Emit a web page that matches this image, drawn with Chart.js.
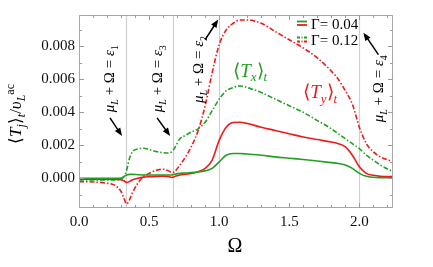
<!DOCTYPE html>
<html>
<head>
<meta charset="utf-8">
<script src="https://cdn.jsdelivr.net/npm/chart.js@4.4.0/dist/chart.umd.min.js"></script>
<style>
  html, body { margin: 0; padding: 0; background: #fff; }
  #wrap { width: 433px; height: 267px; }
</style>
</head>
<body>
<div id="wrap"><canvas id="chart" width="433" height="267"></canvas></div>
<script>
// Omega samples shared by all four curves
var omega = [0, 0.1, 0.2, 0.25, 0.3, 0.32, 0.34, 0.36, 0.38, 0.42, 0.46, 0.5, 0.55, 0.6, 0.64, 0.66, 0.68,
  0.72, 0.76, 0.8, 0.85, 0.9, 0.95, 1.0, 1.05, 1.1, 1.15, 1.2, 1.3, 1.4, 1.5, 1.6, 1.7, 1.8, 1.85, 1.9,
  1.95, 2.0, 2.05, 2.1, 2.15, 2.24];

// <T_x>_t, Gamma = 0.04 (green solid)
var txLow = [0, 0, 0, 0, 0.00002, 0.0001, 0.0002, 0.00024, 0.00024, 0.00022, 0.0002, 0.0002, 0.0002, 0.0002,
  0.0002, 0.0002, 0.00025, 0.0003, 0.00032, 0.00035, 0.00038, 0.00045, 0.0006, 0.001, 0.0014, 0.0015,
  0.0015, 0.00147, 0.0014, 0.0013, 0.00122, 0.00114, 0.00105, 0.00095, 0.0009, 0.0008, 0.0006, 0.0003,
  0.00012, 0.00006, 0.00004, 0.00003];

// <T_y>_t, Gamma = 0.04 (red solid)
var tyLow = [-0.00005, -0.00005, -0.00005, -0.00005, -0.00008, -0.00015, -0.00025, -0.0002, -0.0001, 0,
  0.00007, 0.0001, 0.00012, 0.00013, 0.0001, 0.00005, 0.0001, 0.0002, 0.00025, 0.0003, 0.0004, 0.0006,
  0.0011, 0.0023, 0.0031, 0.00338, 0.0034, 0.00332, 0.0031, 0.0029, 0.0027, 0.0025, 0.00235, 0.0022,
  0.0021, 0.0019, 0.0014, 0.0007, 0.0003, 0.00018, 0.00012, 0.0001];

// <T_x>_t, Gamma = 0.12 (green dash-dot)
var txHigh = [-0.0001, -0.0001, -0.0001, -0.0001, -0.00005, 0.0001, 0.0005, 0.0012, 0.0016, 0.00178,
  0.00182, 0.00175, 0.00163, 0.00155, 0.00153, 0.0016, 0.0018, 0.0024, 0.0026, 0.0028, 0.003, 0.0034,
  0.0041, 0.0048, 0.0053, 0.0055, 0.0056, 0.0055, 0.0052, 0.0048, 0.0044, 0.004, 0.0035, 0.003, 0.0027,
  0.0024, 0.0021, 0.0018, 0.0014, 0.0011, 0.0008, 0.0004];

// <T_y>_t, Gamma = 0.12 (red dash-dot)
var tyHigh = [-0.0002, -0.00022, -0.0003, -0.0004, -0.0008, -0.0012, -0.00155, -0.0013, -0.0009, -0.0003,
  0.0001, 0.0003, 0.00048, 0.00055, 0.00045, 0.00036, 0.0004, 0.0008, 0.0013, 0.0019, 0.0029, 0.0044,
  0.0064, 0.0081, 0.009, 0.0094, 0.0096, 0.0096, 0.0094, 0.0089, 0.0084, 0.0079, 0.0073, 0.0065, 0.006,
  0.0053, 0.0045, 0.0031, 0.0021, 0.0016, 0.0013, 0.001];

var xTicks = [0, 0.5, 1, 1.5, 2];
var yTicks = [0, 0.002, 0.004, 0.006, 0.008];
var resonances = [0.337, 0.669, 1.0, 2.0];

var RED = '#ee1a1a';
var GREEN = '#22a022';
var FAM = '"Liberation Serif"';
var DASHDOT = [5, 2, 1.5, 2];

function pts(vals) {
  return vals.map(function (v, i) { return { x: omega[i], y: v }; });
}

// draw a run of text pieces (for sub/superscripts); style: r, i, si, sr, pr
function runs(ctx, parts, x, y, size, align) {
  var widths = [], total = 0;
  parts.forEach(function (p) {
    ctx.font = fontFor(p[1], size);
    var w = ctx.measureText(p[0]).width;
    widths.push(w); total += w;
  });
  var cx = align === 'center' ? x - total / 2 : x;
  parts.forEach(function (p, i) {
    ctx.font = fontFor(p[1], size);
    var dy = 0;
    if (p[1][0] === 's') dy = 0.25 * size;
    if (p[1][0] === 'p') dy = -0.42 * size;
    ctx.fillText(p[0], cx, y + dy);
    cx += widths[i];
  });
}
function fontFor(style, size) {
  var small = style.length > 1;
  var it = style[style.length - 1] === 'i';
  return (it ? 'italic ' : '') + (small ? Math.round(size * 0.68) : size) + 'px ' + FAM;
}

function arrow(ctx, x1, y1, x2, y2) {
  var ang = Math.atan2(y2 - y1, x2 - x1), L = 8, W = 3.2;
  ctx.beginPath();
  ctx.moveTo(x1, y1);
  ctx.lineTo(x2 - Math.cos(ang) * L * 0.8, y2 - Math.sin(ang) * L * 0.8);
  ctx.stroke();
  ctx.beginPath();
  ctx.moveTo(x2, y2);
  ctx.lineTo(x2 - Math.cos(ang) * L + Math.sin(ang) * W, y2 - Math.sin(ang) * L - Math.cos(ang) * W);
  ctx.lineTo(x2 - Math.cos(ang) * L - Math.sin(ang) * W, y2 - Math.sin(ang) * L + Math.cos(ang) * W);
  ctx.closePath();
  ctx.fill();
}

var decor = {
  id: 'decor',
  beforeDatasetsDraw: function (chart) {
    var ctx = chart.ctx, a = chart.chartArea, x = chart.scales.x;
    ctx.save();
    ctx.strokeStyle = '#cfcfcf';
    ctx.lineWidth = 1.2;
    resonances.forEach(function (r) {
      var px = Math.round(x.getPixelForValue(r)) + 0.5;
      ctx.beginPath(); ctx.moveTo(px, a.top); ctx.lineTo(px, a.bottom); ctx.stroke();
    });
    ctx.restore();
  },
  afterDatasetsDraw: function (chart) {
    var ctx = chart.ctx, a = chart.chartArea, x = chart.scales.x, y = chart.scales.y;
    ctx.save();
    // frame
    ctx.strokeStyle = '#a8a8a8';
    ctx.lineWidth = 1;
    ctx.strokeRect(a.left + 0.5, a.top + 0.5, a.right - a.left - 1, a.bottom - a.top - 1);
    // inward ticks
    ctx.strokeStyle = '#9a9a9a';
    ctx.beginPath();
    for (var k = 1; k <= 22; k++) {
      var px = Math.round(x.getPixelForValue(k * 0.1)) + 0.5;
      var len = k % 5 === 0 ? 5 : 3;
      ctx.moveTo(px, a.bottom); ctx.lineTo(px, a.bottom - len);
      ctx.moveTo(px, a.top); ctx.lineTo(px, a.top + len);
    }
    for (var j = -1; j <= 9; j++) {
      var py = Math.round(y.getPixelForValue(j * 0.001)) + 0.5;
      var l2 = (j % 2 === 0) ? 5 : 3;
      ctx.moveTo(a.left, py); ctx.lineTo(a.left + l2, py);
      ctx.moveTo(a.right, py); ctx.lineTo(a.right - l2, py);
    }
    ctx.stroke();

    // legend
    ctx.lineWidth = 1.8;
    var lx0 = 297, lx1 = 307;
    [[21.5, GREEN, []], [25, RED, []], [37.5, GREEN, [3, 1.5, 1, 1.5]], [41.5, RED, [3, 1.5, 1, 1.5]]].forEach(function (r) {
      ctx.strokeStyle = r[1];
      ctx.setLineDash(r[2]);
      ctx.beginPath(); ctx.moveTo(lx0, r[0]); ctx.lineTo(lx1, r[0]); ctx.stroke();
    });
    ctx.setLineDash([]);
    ctx.fillStyle = '#000';
    ctx.textBaseline = 'alphabetic';
    ctx.font = '15px ' + FAM;
    ctx.fillText('\u0393= 0.04', 311, 29);
    ctx.fillText('\u0393= 0.12', 311, 44.5);

    // curve labels
    ctx.fillStyle = GREEN;
    runs(ctx, [['\u27E8', 'r'], ['T', 'i'], ['x', 'si'], ['\u27E9', 'r'], ['t', 'si']],
      x.getPixelForValue(1.1), y.getPixelForValue(0.00616), 19, 'left');
    ctx.fillStyle = RED;
    runs(ctx, [['\u27E8', 'r'], ['T', 'i'], ['y', 'si'], ['\u27E9', 'r'], ['t', 'si']],
      x.getPixelForValue(1.6), y.getPixelForValue(0.00488), 19, 'left');

    // rotated resonance annotations
    ctx.fillStyle = '#000';
    var notes = [[0.214, 0.00604, '1'], [0.557, 0.00604, '3'], [0.85, 0.0066, '2'], [2.136, 0.00543, '4']];
    notes.forEach(function (n) {
      ctx.save();
      ctx.translate(x.getPixelForValue(n[0]), y.getPixelForValue(n[1]));
      ctx.rotate(-Math.PI / 2);
      runs(ctx, [['\u03BC', 'i'], ['L', 'si'], [' + \u03A9 = ', 'r'], ['\u03B5', 'i'], [n[2], 'sr']], 0, 5, 15, 'center');
      ctx.restore();
    });
    ctx.strokeStyle = '#000';
    ctx.fillStyle = '#000';
    ctx.lineWidth = 1.5;
    var arrows = [[0.221, 0.00366, 0.307, 0.00257], [0.557, 0.00366, 0.65, 0.00257],
      [0.9, 0.00841, 0.993, 0.00962], [2.136, 0.0075, 2.029, 0.00883]];
    arrows.forEach(function (r) {
      arrow(ctx, x.getPixelForValue(r[0]), y.getPixelForValue(r[1]), x.getPixelForValue(r[2]), y.getPixelForValue(r[3]));
    });

    // axis titles
    ctx.fillStyle = '#000';
    ctx.font = '20px ' + FAM;
    ctx.textAlign = 'center';
    ctx.fillText('\u03A9', 235, 252);
    ctx.textAlign = 'left';
    ctx.save();
    ctx.translate(15, 114);
    ctx.rotate(-Math.PI / 2);
    runs(ctx, [['\u27E8', 'r'], ['T', 'i'], ['j', 'si'], ['\u27E9', 'r'], ['t', 'si'], ['/', 'r'], ['\u03C5', 'i'], ['L', 'si'], ['ac', 'pr']], 0, 6, 17, 'center');
    ctx.restore();
    ctx.restore();
  }
};

function series(vals, color, dash) {
  return {
    data: pts(vals),
    borderColor: color,
    borderWidth: 1.6,
    borderDash: dash,
    pointRadius: 0,
    fill: false,
    cubicInterpolationMode: 'monotone'
  };
}

new Chart(document.getElementById('chart'), {
  type: 'line',
  data: {
    datasets: [
      series(txLow, GREEN, []),
      series(tyLow, RED, []),
      series(txHigh, GREEN, DASHDOT),
      series(tyHigh, RED, DASHDOT)
    ]
  },
  options: {
    responsive: false,
    devicePixelRatio: 1,
    animation: false,
    layout: { padding: { top: 15, right: 40, left: 0, bottom: 0 } },
    plugins: { legend: { display: false }, tooltip: { enabled: false } },
    scales: {
      x: {
        type: 'linear',
        min: 0,
        max: 2.24,
        afterFit: function (s) { s.height = 59; },
        afterBuildTicks: function (s) { s.ticks = xTicks.map(function (v) { return { value: v }; }); },
        grid: { display: false, drawTicks: false },
        border: { display: false },
        ticks: {
          padding: 5,
          color: '#111',
          font: { family: 'Liberation Serif', size: 15 },
          maxRotation: 0,
          callback: function (v) { return v.toFixed(1); }
        }
      },
      y: {
        type: 'linear',
        min: -0.0018,
        max: 0.0099,
        afterFit: function (s) { s.width = 79; },
        afterBuildTicks: function (s) { s.ticks = yTicks.map(function (v) { return { value: v }; }); },
        grid: { display: false, drawTicks: false },
        border: { display: false },
        ticks: {
          padding: 4,
          color: '#111',
          font: { family: 'Liberation Serif', size: 15 },
          callback: function (v) { return v.toFixed(3); }
        }
      }
    }
  },
  plugins: [decor]
});
</script>
</body>
</html>
